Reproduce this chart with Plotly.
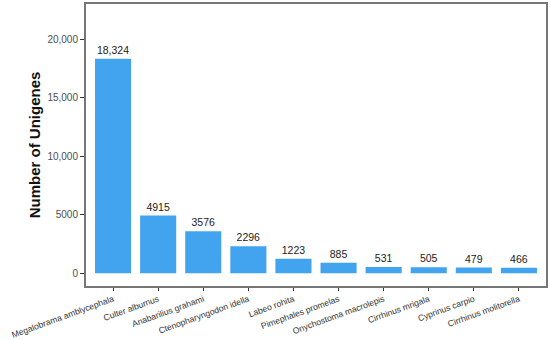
import plotly.graph_objects as go

species = ["Megalobrama amblycephala", "Culter alburnus", "Anabarilius grahami",
           "Ctenopharyngodon idella", "Labeo rohita", "Pimephales promelas",
           "Onychostoma macrolepis", "Cirrhinus mrigala", "Cyprinus carpio",
           "Cirrhinus molitorella"]
unigenes = [18324, 4915, 3576, 2296, 1223, 885, 531, 505, 479, 466]
bar_labels = ["18,324", "4915", "3576", "2296", "1223", "885", "531", "505", "479", "466"]
y_tickvals = [0, 5000, 10000, 15000, 20000]
y_ticktext = ["0", "5000", "10,000", "15,000", "20,000"]

fig = go.Figure(go.Bar(
    x=list(range(len(species))), y=unigenes,
    text=bar_labels, textposition="outside",
    textfont=dict(size=10.5, color="#222222"),
    marker=dict(color="#42A4EE", line=dict(width=0)),
    width=0.8, cliponaxis=False,
))

fig.update_layout(
    width=550, height=340,
    margin=dict(l=86, r=4, t=4, b=54, autoexpand=False),
    paper_bgcolor="white", plot_bgcolor="white",
    font=dict(family="Liberation Sans, Arial, sans-serif", color="#4d4d4d"),
    showlegend=False,
    xaxis=dict(
        range=[-0.6, 9.6], tickmode="array",
        tickvals=list(range(len(species))), ticktext=species,
        tickangle=-20, tickfont=dict(size=8.6, color="#333333"),
        ticks="outside", ticklen=3, tickcolor="#333333",
        showline=True, linecolor="#777777", linewidth=2, mirror=True,
        showgrid=False, zeroline=False, automargin=False,
    ),
    yaxis=dict(
        range=[-1100, 23000], tickmode="array",
        tickvals=y_tickvals, ticktext=y_ticktext,
        tickfont=dict(size=10, color="#4d4d4d"),
        ticks="outside", ticklen=4, tickcolor="#333333",
        showline=True, linecolor="#777777", linewidth=2, mirror=True,
        showgrid=False, zeroline=False, automargin=False,
        title=dict(text="<b>Number of Unigenes</b>", font=dict(size=15, color="#111111"), standoff=3),
    ),
)

fig.write_html("out.html", config={"displayModeBar": False},
               post_script="document.body.style.margin='0';")
